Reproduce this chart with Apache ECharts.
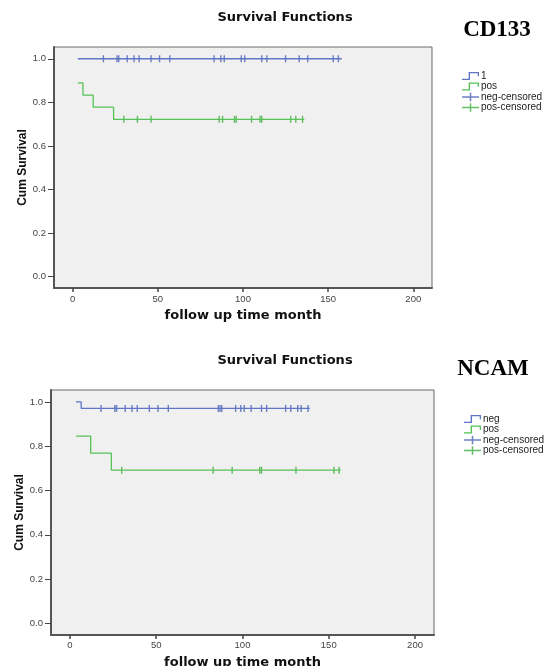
<!DOCTYPE html>
<html lang="en">
<head>
    <meta charset="UTF-8">
    <title>Survival Functions</title>
    <script src="https://cdn.jsdelivr.net/npm/echarts@6/dist/echarts.min.js"></script>
</head>
<style>
    *{
        margin: 0;
        padding: 0;
    }
    html , body{
        width: 550px;
        height: 666px;
        background: #fff;
    }
    .container{
        width: 550px;
        height: 666px;
    }
</style>
<body>
<div class="container"></div>
<script>
    // tick labels
    const xTicks = [0, 50, 100, 150, 200];
    const yTicks = [0, 0.2, 0.4, 0.6, 0.8, 1.0];

    // CD133 panel: step curves [time, survival] and censored times
    const cdNegCurve = [[3, 1], [158, 1]];
    const cdNegCensor = [18, 26, 27, 32, 36, 39, 46, 51, 57, 83, 87, 89, 99, 101, 111, 114, 125, 133, 138, 153, 156];
    const cdPosCurve = [[3, 0.889], [6, 0.833], [12, 0.778], [24, 0.722], [136, 0.722]];
    const cdPosCensor = [30, 38, 46, 86, 88, 95, 96, 105, 110, 111, 128, 131, 135];

    // NCAM panel
    const ncNegCurve = [[3.5, 1], [6.5, 0.971], [139, 0.971]];
    const ncNegCensor = [18, 26, 27, 32, 36, 39, 46, 51, 57, 86, 87, 88, 96, 99, 101, 105, 111, 114, 125, 128, 132, 134, 138];
    const ncPosCurve = [[3.5, 0.846], [12, 0.769], [24, 0.692], [157, 0.692]];
    const ncPosCensor = [30, 83, 94, 110, 111, 131, 153, 156];

    const blue = '#5f75c6';
    const green = '#55c255';
    const stepIcon = 'path://M0,7.8 H7.6 V0 H19.5 V5 H18 V1.6 H9.2 V9.4 H0 Z';
    const plusIcon = 'path://M0,4.2 H20 V5.8 H0 Z M9.1,0 H10.9 V10 H9.1 Z';

    // survival level at time t
    function levelAt(curve, t) {
        let s = curve[0][1];
        curve.forEach(p => { if (p[0] <= t) s = p[1]; });
        return s;
    }

    let container = document.querySelector('.container');
    let mycharts = echarts.init(container);

    let grids = [
        {left: 54, right: 118, top: 47, height: 241},
        {left: 51, right: 116, top: 390, height: 245}
    ].map(g => Object.assign(g, {
        show: true,
        outerBoundsMode: 'none',
        backgroundColor: '#f0f0f0',
        borderColor: '#6a6a6a',
        borderWidth: 1
    }));

    let xAxis = [0, 1].map(i => ({
        type: 'value',
        gridIndex: i,
        min: -11,
        max: 211,
        name: 'follow up time month',
        nameLocation: 'middle',
        nameGap: 21,
        nameTextStyle: {fontSize: 13, fontWeight: 'bold', color: '#111', fontFamily: 'DejaVu Sans'},
        axisLine: {onZero: false, lineStyle: {color: '#555', width: 2}},
        axisTick: {customValues: xTicks, length: 4, lineStyle: {color: '#444', width: 1.5}},
        axisLabel: {customValues: xTicks, fontSize: 9.5, color: '#444', margin: i ? 5 : 6},
        splitLine: {show: false}
    }));

    let yAxis = [0, 1].map(i => ({
        type: 'value',
        gridIndex: i,
        min: -0.052,
        max: 1.054,
        name: 'Cum Survival',
        nameLocation: 'middle',
        nameGap: 25,
        nameMoveOverlap: false,
        nameTextStyle: {fontSize: 12, fontWeight: 'bold', color: '#111'},
        axisLine: {onZero: false, lineStyle: {color: '#555', width: 2}},
        axisTick: {customValues: yTicks, length: 6, lineStyle: {color: '#444'}},
        axisLabel: {customValues: yTicks, fontSize: 9.5, color: '#444', margin: 8,
            formatter: v => v.toFixed(1)},
        splitLine: {show: false}
    }));

    function stepSeries(name, curve, color, idx) {
        return {
            name, type: 'line', step: 'end', data: curve,
            xAxisIndex: idx, yAxisIndex: idx,
            symbol: 'none', color,
            lineStyle: {width: 1.3, color},
            silent: true, animation: false
        };
    }

    function censorSeries(name, times, curve, color, idx) {
        return {
            name, type: 'scatter',
            data: times.map(t => [t, levelAt(curve, t)]),
            xAxisIndex: idx, yAxisIndex: idx,
            symbol: 'rect', symbolSize: [1.4, 7], color,
            animation: false
        };
    }

    let series = [
        stepSeries('1', cdNegCurve, blue, 0),
        stepSeries('pos', cdPosCurve, green, 0),
        censorSeries('neg-censored', cdNegCensor, cdNegCurve, '#4a62b8', 0),
        censorSeries('pos-censored', cdPosCensor, cdPosCurve, '#3fae3f', 0),
        stepSeries('neg', ncNegCurve, blue, 1),
        stepSeries('pos', ncPosCurve, green, 1),
        censorSeries('neg-censored', ncNegCensor, ncNegCurve, '#4a62b8', 1),
        censorSeries('pos-censored', ncPosCensor, ncPosCurve, '#3fae3f', 1)
    ];

    function legendFor(first, left, top) {
        return {
            orient: 'vertical', left, top,
            itemWidth: 17, itemHeight: 9, itemGap: 0.5,
            itemStyle: {borderWidth: 0},
            textStyle: {fontSize: 10, color: '#222', padding: [0, 0, 0, -3]},
            data: [
                {name: first, icon: stepIcon},
                {name: 'pos', icon: stepIcon},
                {name: 'neg-censored', icon: plusIcon},
                {name: 'pos-censored', icon: plusIcon}
            ]
        };
    }

    let options = {
        backgroundColor: '#fff',
        textStyle: {fontFamily: 'Liberation Sans, Arial, sans-serif'},
        title: [
            {text: 'Survival Functions', left: 285, top: 11, textAlign: 'center', padding: 0,
                textStyle: {fontSize: 13, fontWeight: 'bold', color: '#111', fontFamily: 'DejaVu Sans'}},
            {text: 'CD133', left: 497, top: 19, textAlign: 'center', padding: 0,
                textStyle: {fontSize: 23, fontWeight: 'bold', color: '#000', fontFamily: 'Liberation Serif'}},
            {text: 'Survival Functions', left: 285, top: 354, textAlign: 'center', padding: 0,
                textStyle: {fontSize: 13, fontWeight: 'bold', color: '#111', fontFamily: 'DejaVu Sans'}},
            {text: 'NCAM', left: 493, top: 358, textAlign: 'center', padding: 0,
                textStyle: {fontSize: 23, fontWeight: 'bold', color: '#000', fontFamily: 'Liberation Serif'}}
        ],
        legend: [
            legendFor('1', 457, 66),
            legendFor('neg', 459, 409)
        ],
        grid: grids,
        xAxis,
        yAxis,
        series,
    };

    mycharts.setOption(options);
</script>
</body>
</html>
